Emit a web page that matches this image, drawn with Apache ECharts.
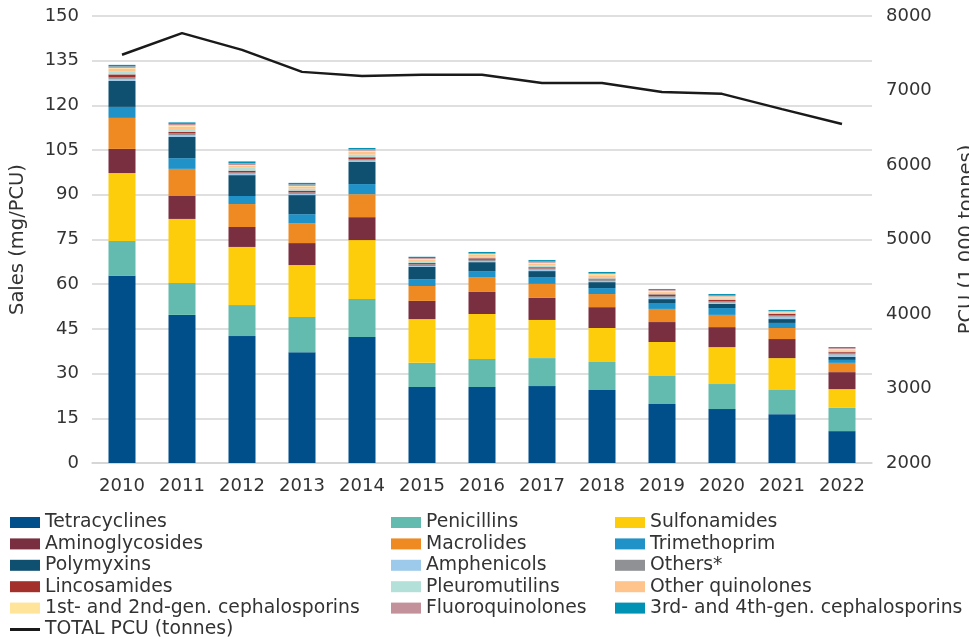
<!DOCTYPE html>
<html>
<head>
<meta charset="utf-8">
<script src="https://cdn.jsdelivr.net/npm/echarts@6/dist/echarts.min.js"></script>
<style>
html,body{margin:0;padding:0;background:#fff;}
#main{width:969px;height:639px;}
</style>
</head>
<body>
<div id="main"></div>
<script>
const years = ['2010','2011','2012','2013','2014','2015','2016','2017','2018','2019','2020','2021','2022'];
const tetracyclines   = [62.8,49.7,42.6,37.2,42.3,25.5,25.5,25.8,24.5,19.8,18.1,16.4,10.7];
const penicillins     = [11.7,10.7,10.4,11.8,12.7, 8.1, 9.4, 9.4, 9.4, 9.4, 8.4, 8.1, 7.8];
const sulfonamides    = [22.8,21.5,19.5,17.4,19.8,14.7,15.1,12.8,11.4,11.4,12.4,10.7, 6.3];
const aminoglycosides = [ 8.1, 7.7, 6.7, 7.4, 7.7, 6.1, 7.4, 7.4, 7.0, 6.7, 6.7, 6.4, 5.7];
const macrolides      = [10.4, 9.1, 7.7, 6.7, 7.7, 5.0, 5.0, 4.7, 4.4, 4.4, 4.1, 3.7, 3.1];
const trimethoprim    = [ 3.7, 3.6, 2.7, 3.0, 3.4, 2.3, 2.0, 2.3, 2.0, 2.0, 2.3, 1.7, 1.0];
const polymyxins      = [ 8.7, 7.1, 7.0, 6.4, 7.4, 4.1, 3.0, 2.0, 2.0, 1.3, 1.4, 1.3, 1.0];
const amphenicols     = [ 0.7, 0.6, 0.5, 0.4, 0.5, 0.3, 0.4, 0.5, 0.4, 0.5, 0.4, 0.8, 0.8];
const others          = [ 0.6, 0.6, 0.4, 0.5, 0.5, 0.6, 0.4, 0.4, 0.5, 0.5, 0.5, 0.4, 0.6];
const lincosamides    = [ 0.9, 0.5, 0.6, 0.6, 0.6, 0.4, 0.5, 0.4, 0.3, 0.6, 0.4, 0.6, 0.3];
const pleuromutilins  = [ 0.9, 1.0, 1.0, 0.7, 0.9, 0.4, 0.5, 0.6, 0.5, 0.5, 0.5, 0.4, 0.4];
const otherQuinolones = [ 1.1, 0.8, 0.7, 0.7, 1.0, 0.6, 0.6, 0.6, 0.6, 0.4, 0.4, 0.2, 0.4];
const ceph12          = [ 0.2, 0.4, 0.2, 0.2, 0.3, 0.4, 0.3, 0.3, 0.4, 0.3, 0.3, 0.1, 0.2];
const fluoroquinolones= [ 0.5, 0.5, 0.6, 0.5, 0.5, 0.3, 0.3, 0.4, 0.3, 0.3, 0.3, 0.2, 0.3];
const ceph34          = [ 0.5, 0.5, 0.6, 0.5, 0.4, 0.4, 0.4, 0.5, 0.4, 0.3, 0.5, 0.3, 0.3];
const totalPCU        = [7480,7770,7545,7250,7195,7210,7210,7100,7100,6980,6955,6750,6550];

const leftTicks = {min:0, max:150, interval:15};
const rightTicks = {min:2000, max:8000, interval:1000};

const barSeries = [
  ['Tetracyclines', tetracyclines, '#004f8a'],
  ['Penicillins', penicillins, '#62bbae'],
  ['Sulfonamides', sulfonamides, '#fdcd0c'],
  ['Aminoglycosides', aminoglycosides, '#7a2f41'],
  ['Macrolides', macrolides, '#ef8a22'],
  ['Trimethoprim', trimethoprim, '#2192c8'],
  ['Polymyxins', polymyxins, '#0f5070'],
  ['Amphenicols', amphenicols, '#9dc9eb'],
  ['Others*', others, '#8f9195'],
  ['Lincosamides', lincosamides, '#a3302a'],
  ['Pleuromutilins', pleuromutilins, '#b3e0d8'],
  ['Other quinolones', otherQuinolones, '#ffc38c'],
  ['1st- and 2nd-gen. cephalosporins', ceph12, '#ffe49a'],
  ['Fluoroquinolones', fluoroquinolones, '#c2919a'],
  ['3rd- and 4th-gen. cephalosporins', ceph34, '#0092b5']
];
const lineName = 'TOTAL PCU (tonnes)';

const FONT = 'DejaVu Sans, Verdana, sans-serif';
const TXT = '#333333';

const series = barSeries.map(([name, data, color]) => ({
  name, type:'bar', stack:'total', data, barWidth:27,
  itemStyle:{color}, emphasis:{disabled:true}
}));
series.push({
  name: lineName, type:'line', yAxisIndex:1, data: totalPCU,
  symbol:'none', lineStyle:{color:'#1a1a1a', width:2.5}, itemStyle:{color:'#1a1a1a'},
  z:10
});

const legendText = {fontFamily:FONT, fontSize:18.8, color:TXT, lineHeight:18};
const lineIcon = 'path://M0,0L30,0L30,3L0,3Z';
function mkLegend(left, names){
  return {
    orient:'vertical', left, top:513, height:140, padding:0,
    itemWidth:30, itemHeight:11, itemGap:2.4,
    icon:'rect', selectedMode:false, textStyle:legendText,
    data: names.map(n => n === lineName ? {name:n, icon:lineIcon} : {name:n})
  };
}
const nm = barSeries.map(s => s[0]);
const col1 = [nm[0], nm[3], nm[6], nm[9], nm[12], lineName];
const col2 = [nm[1], nm[4], nm[7], nm[10], nm[13]];
const col3 = [nm[2], nm[5], nm[8], nm[11], nm[14]];

const option = {
  animation:false,
  backgroundColor:'#ffffff',
  grid:{left:92, right:97, top:16, bottom:176, containLabel:false, outerBoundsMode:'none'},
  legend:[mkLegend(10, col1), mkLegend(391, col2), mkLegend(615, col3)],
  xAxis:{
    type:'category', data:years,
    axisLine:{show:true, lineStyle:{color:'#d4d4d4', width:1.5}},
    axisTick:{show:false},
    axisLabel:{fontFamily:FONT, fontSize:18, color:TXT, margin:14, interval:0}
  },
  yAxis:[
    {
      type:'value', min:leftTicks.min, max:leftTicks.max, interval:leftTicks.interval,
      name:'Sales (mg/PCU)', nameLocation:'middle', nameGap:64, nameRotate:90,
      nameTextStyle:{fontFamily:FONT, fontSize:19.5, color:TXT},
      axisLine:{show:false}, axisTick:{show:false},
      axisLabel:{fontFamily:FONT, fontSize:18, color:TXT, margin:13},
      splitLine:{show:true, lineStyle:{color:'#d4d4d4', width:1.5}}
    },
    {
      type:'value', min:rightTicks.min, max:rightTicks.max, interval:rightTicks.interval,
      position:'right',
      name:'PCU (1,000 tonnes)', nameLocation:'middle', nameGap:85, nameRotate:90,
      nameTextStyle:{fontFamily:FONT, fontSize:19.5, color:TXT},
      axisLine:{show:false}, axisTick:{show:false},
      axisLabel:{fontFamily:FONT, fontSize:18, color:TXT, margin:14, formatter: v => String(v)},
      splitLine:{show:false}
    }
  ],
  series
};
const chart = echarts.init(document.getElementById('main'), null, {renderer:'canvas'});
chart.setOption(option);
</script>
</body>
</html>
